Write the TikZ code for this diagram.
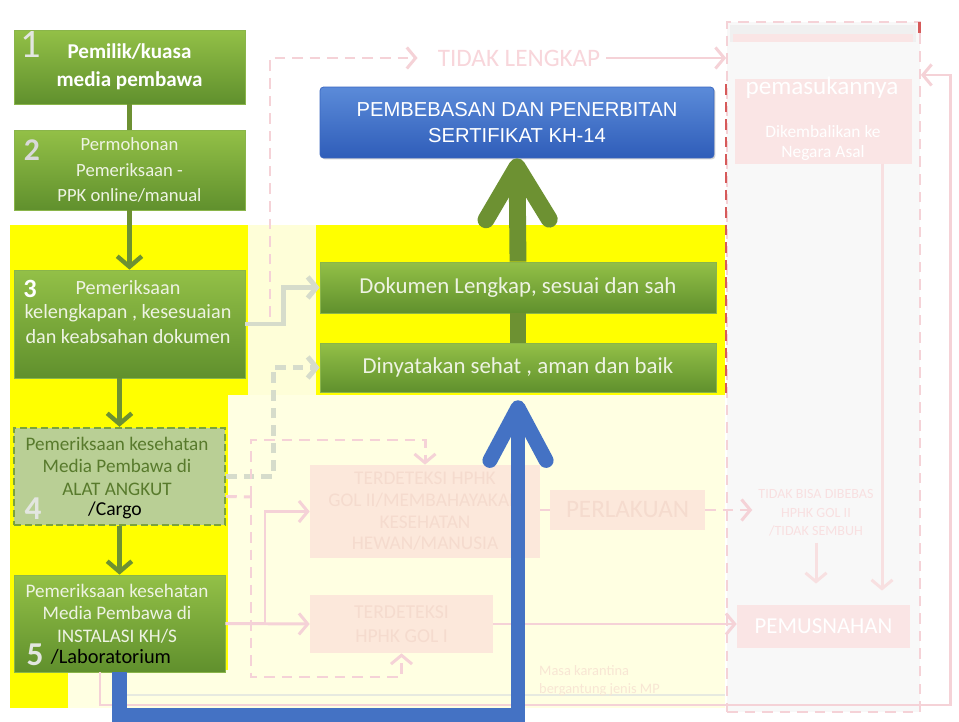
\documentclass[tikz,border=0pt]{standalone}
\usepackage{fontspec}
\setmainfont{Carlito}
\newfontfamily\arialfont{Liberation Sans}
\usepackage{tikz}
\usetikzlibrary{arrows.meta, shadows, calc}

\definecolor{hijaumuda}{HTML}{93C047}
\definecolor{hijautua}{HTML}{60902D}
\definecolor{hijaugaris}{HTML}{8AB54A}
\definecolor{hijaupucat}{HTML}{B9CF95}
\definecolor{hijauputus}{HTML}{7BA23C}
\definecolor{hijauteks}{HTML}{587A2C}
\definecolor{hijaupanah}{HTML}{6D9132}
\definecolor{teksterang}{HTML}{EEF3E3}
\definecolor{angkaabu}{HTML}{E3E6E0}
\definecolor{biruatas}{HTML}{5B8BD9}
\definecolor{birubawah}{HTML}{2F5DB9}
\definecolor{birugaris}{HTML}{3A66C0}
\definecolor{birupanah}{HTML}{4472C4}
\definecolor{kuning}{HTML}{FFFF00}
\definecolor{krem}{HTML}{FFFFE2}
\definecolor{kremtua}{HTML}{FEFED8}
\definecolor{abupanel}{HTML}{F8F8F8}
\definecolor{pinkgaris}{HTML}{F5D2D7}
\definecolor{pinkjudul}{HTML}{F8D6DB}
\definecolor{pinkisi}{HTML}{FCE8DB}
\definecolor{pinkteks}{HTML}{F5DBCE}
\definecolor{pinkkotak}{HTML}{FAE5E5}
\definecolor{pinkmuda}{HTML}{F8E0E1}
\definecolor{abupanah}{HTML}{D6DCCB}
\definecolor{merahputus}{HTML}{D65A5A}

\tikzstyle{tahap} = [rectangle, 
minimum width=4.62cm, 
text centered, align=center, 
top color=hijaumuda, bottom color=hijautua, 
draw=hijaugaris, 
text=teksterang, 
drop shadow={opacity=0.25, shadow xshift=0.6pt, shadow yshift=-0.6pt}]
\tikzstyle{tahaptipis} = [rectangle, 
fill=hijaupucat, 
draw=hijauputus, line width=1.4pt, 
dash pattern=on 4pt off 2pt]
\tikzstyle{teksbox} = [text=teksterang, align=center]
\tikzstyle{nomor} = [text=angkaabu, font=\bfseries]
\tikzstyle{hasil} = [rectangle, rounded corners=2pt, 
text centered, align=center, 
top color=biruatas, bottom color=birubawah, 
draw=birugaris, text=white, 
font=\arialfont\fontsize{11.5}{15.3}\selectfont, 
drop shadow={opacity=0.35, shadow xshift=0.8pt, shadow yshift=-0.8pt}]
\tikzstyle{pudar} = [rectangle, fill=pinkisi, text=pinkteks, align=center, inner sep=1pt]
\tikzstyle{garispudar} = [draw=pinkgaris, line width=1.7pt, -{Straight Barb[length=5pt, width=12pt]}]
\tikzstyle{putus} = [dash pattern=on 6pt off 4pt]
\tikzstyle{panahabu} = [draw=abupanah, line width=2.8pt, -{Straight Barb[length=5pt, width=12pt]}]
\tikzstyle{panahkecil} = [draw=hijaupanah, line width=2.5pt, -{Straight Barb[length=6pt, width=14pt]}]
\tikzstyle{panahhijau} = [draw=hijaupanah, line width=9.6pt, -{Straight Barb[round, length=30pt, width=36pt]}]
\tikzstyle{panahbiru} = [draw=birupanah, line width=8.5pt, line join=miter, -{Straight Barb[round, length=30pt, width=32pt]}]

\begin{document}
\begin{tikzpicture}[x=0.02cm, y=-0.02cm]
\useasboundingbox (0,0) rectangle (959,722);
\fill[white] (0,0) rectangle (959,722);

% latar kuning dan krem
\fill[kuning] (10,225) rectangle (725,395);
\fill[kremtua] (248,225) rectangle (316,395);
\fill[kuning] (10,395) rectangle (228,708);
\fill[krem] (228,395) rectangle (725,708);
\fill[krem] (68,670) rectangle (228,708);
\draw[abupanah!60, line width=1.5pt] (123,695) -- (725,695);

% panel kanan
\node (panel) [rectangle, fill=abupanel, draw=pinkgaris, putus, line width=1pt, minimum width=3.86cm, minimum height=13.8cm] at (823.5,367) {};
\fill[black!6] (730,25) rectangle (916,42);
\fill[pinkkotak] (733,34) rectangle (913,42);
\fill[merahputus] (918,22) rectangle (921,33);
\draw[merahputus, putus, line width=1.2pt] ($(panel.north west)+(0,63)$) -- ($(panel.north west)+(0,373)$);

% tahapan kiri
\node (pemilik) [tahap, minimum height=1.48cm, text=white, font=\bfseries\fontsize{12}{15.9}\selectfont] at (129.5,67) {Pemilik/kuasa\\media pembawa};
\node (mohon) [tahap, minimum height=1.6cm, font=\fontsize{10.6}{14.7}\selectfont] at (129.5,170) {Permohonan\\Pemeriksaan -\\PPK online/manual};
\node (periksa) [tahap, minimum height=2.16cm] at (129.5,324) {};
\node (periksateks) [teksbox, font=\fontsize{11.5}{13.9}\selectfont] at (128,312) {Pemeriksaan\\kelengkapan , kesesuaian\\dan keabsahan dokumen};
\node (angkut) [tahaptipis, minimum width=4.22cm, minimum height=1.94cm] at (119.5,476.5) {};
\node (angkutteks) [text=hijauteks, align=center, font=\fontsize{10.9}{12.8}\selectfont] at (117,466) {Pemeriksaan kesehatan\\Media Pembawa di\\ALAT ANGKUT};
\node (kargo) [text=black, font=\fontsize{11.2}{12}\selectfont] at (115,510) {/Cargo};
\node (lab) [tahap, minimum width=4.22cm, minimum height=1.94cm] at (119.5,623.5) {};
\node (labteks) [teksbox, font=\fontsize{10.9}{12.8}\selectfont] at (117,613.5) {Pemeriksaan kesehatan\\Media Pembawa di\\INSTALASI KH/S};
\node (labor) [text=black, font=\fontsize{11.6}{12}\selectfont] at (111,657) {/Laboratorium};

\node (n1) [nomor, font=\fontsize{23}{23}\selectfont] at (31,45) {1};
\node (n2) [nomor, text=black!15, font=\bfseries\fontsize{18}{18}\selectfont] at (32,150) {2};
\node (n3) [nomor, text=white, font=\bfseries\fontsize{15}{15}\selectfont] at (30,289) {3};
\node (n4) [nomor, font=\bfseries\fontsize{19}{19}\selectfont] at (33,509) {4};
\node (n5) [nomor, font=\bfseries\fontsize{19}{19}\selectfont] at (35,655) {5};

% hasil tengah
\node (bebas) [hasil, minimum width=7.88cm, minimum height=1.42cm] at (517,122.5) {PEMBEBASAN DAN PENERBITAN\\SERTIFIKAT KH-14};
\node (dokumen) [tahap, minimum width=7.92cm, minimum height=1.02cm, font=\fontsize{13}{15}\selectfont] at (518,287.5) {Dokumen Lengkap, sesuai dan sah};
\node (sehat) [tahap, minimum width=7.92cm, minimum height=0.98cm, font=\fontsize{13}{15}\selectfont] at (518,367.5) {Dinyatakan sehat , aman dan baik};

% jalur pudar
\node (tidaklengkap) [text=pinkjudul, font=\fontsize{14.3}{16}\selectfont] at (519,58) {TIDAK LENGKAP};
\node (golii) [pudar, minimum width=4.6cm, minimum height=1.86cm, font=\fontsize{11}{12.3}\selectfont] at (425,511.5) {TERDETEKSI HPHK\\GOL II/MEMBAHAYAKAN\\KESEHATAN\\HEWAN/MANUSIA};
\node (perlakuan) [pudar, minimum width=3.1cm, minimum height=0.8cm, font=\fontsize{14.3}{16}\selectfont] at (627.5,510) {PERLAKUAN};
\node (goli) [pudar, minimum width=3.66cm, minimum height=1.16cm, font=\fontsize{11.2}{13.6}\selectfont] at (401.5,624) {TERDETEKSI\\HPHK GOL I};
\node (masa) [text=pinkteks!70!krem, align=left, anchor=north west, font=\fontsize{8.2}{10.2}\selectfont] at (533,659) {Masa karantina\\bergantung jenis MP};
\node (kembali) [rectangle, fill=pinkkotak, minimum width=3.54cm, minimum height=1.7cm] at (823.5,121.5) {};
\node (pemasukan) [text=white, font=\fontsize{14.3}{16}\selectfont] at (822,88) {pemasukannya};
\node (negara) [text=white, align=center, font=\fontsize{9.9}{11.3}\selectfont] at (823,143) {Dikembalikan ke\\Negara Asal};
\node (tidakbisa) [text=pinkmuda, align=center, font=\fontsize{8}{10.5}\selectfont] at (816,513) {TIDAK BISA DIBEBAS\\HPHK GOL II\\/TIDAK SEMBUH};
\node (musnah) [rectangle, fill=pinkkotak, text=white, minimum width=3.46cm, minimum height=0.86cm, font=\fontsize{13}{15}\selectfont] at (823.5,626.5) {PEMUSNAHAN};

\coordinate (tl) at (270,317);
\coordinate (cabang) at (251,497);
\coordinate (cabang2) at (265,623.5);
\coordinate (turun) at (882,164);
\coordinate (bingkai) at (100,672);
\coordinate (atas) at (950,75);
\coordinate (belok) at (518,715);

\draw [panahabu] (periksa.east) -- ++(38,0) |- (dokumen.west);
\draw [panahabu, putus] (angkut.east) -- ++(47,0) |- (sehat.west);
\draw [garispudar, putus, shorten >=8pt] (tl) |- (tidaklengkap.west);
\draw [garispudar] (tidaklengkap.east) -- (tidaklengkap.east -| panel.west);
\draw [garispudar, putus, -] ($(angkut.east)+(0,20)$) -- (cabang);
\draw [garispudar, putus] (cabang) -- (251,440) -| (golii.north);
\draw [garispudar, putus] (cabang) -- (251,677) -| (goli.south);
\draw [garispudar] (lab.east) -- (goli.west);
\draw [garispudar] (cabang2) |- (golii.west);
\draw [garispudar, -] (golii.east |- perlakuan.west) -- (perlakuan.west);
\draw [garispudar, putus] (perlakuan.east) -- (perlakuan.east -| tidakbisa.west);
\draw [garispudar] (goli.east) -- (goli.east -| musnah.west);
\draw [garispudar, draw=pinkmuda, shorten >=12pt] (tidakbisa.south) -- (tidakbisa.south |- musnah.north);
\draw [garispudar, draw=pinkmuda, shorten >=8pt] (turun) -- (turun |- musnah.north);
\draw [garispudar] (bingkai) -- (100,705) -- (950,705) -- (atas) -- (atas -| panel.east);

% panah utama
\draw [draw=hijaupanah, line width=2.5pt] (pemilik) -- (mohon);
\draw [panahkecil] (mohon) -- (periksa);
\draw [panahkecil] (periksa.south -| angkut.north) -- (angkut.north);
\draw [panahkecil] (angkut) -- (lab);
\draw [draw=hijaupanah, line width=9.6pt] (sehat.north) -- (dokumen.south);
\draw [panahhijau] (dokumen.north) -- (bebas.south);
\draw [panahbiru, shorten >=4.5pt] (lab.south) |- (belok) -- (sehat.south);

\end{tikzpicture}
\end{document}
